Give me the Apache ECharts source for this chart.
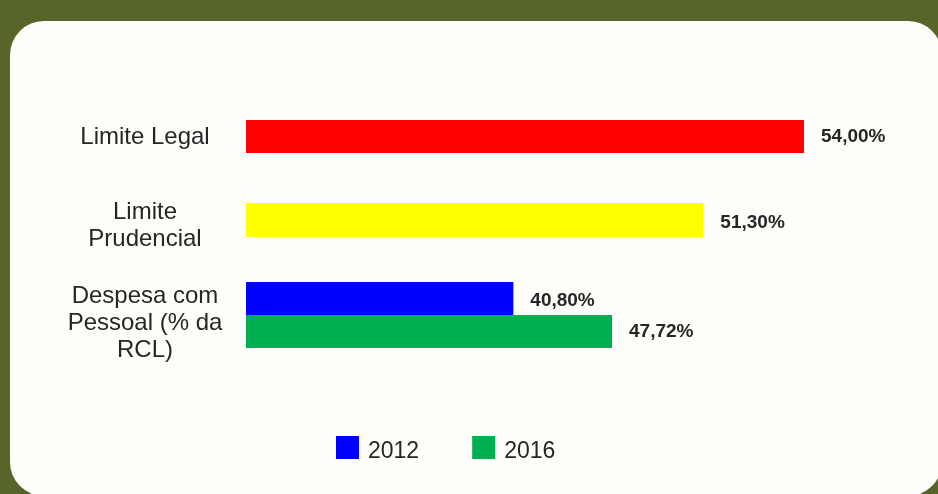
<!DOCTYPE html>
<html>
<head>
<meta charset="utf-8">
<script src="https://cdn.jsdelivr.net/npm/echarts@6/dist/echarts.min.js"></script>
<style>
html,body{margin:0;padding:0;background:#57652b;}
#chart{width:938px;height:494px;}
</style>
</head>
<body>
<div id="chart"></div>
<script>
// Categories (y-axis labels)
var categories = ['Limite Legal', 'Limite\nPrudencial', 'Despesa com\nPessoal (% da\nRCL)'];
// Bar lengths as drawn in the picture (value-axis units)
var limiteLegal = [54.0];
var limitePrudencial = [44.26];
var despesa2012 = [25.87];
var despesa2016 = [35.42];
// Printed value labels
var labelLegal = ['54,00%'];
var labelPrudencial = ['51,30%'];
var label2012 = ['40,80%'];
var label2016 = ['47,72%'];
var legendNames = ['2012', '2016'];

var textColor = '#262626';
var font = 'Liberation Sans';
// spacer line pushes text block down by half its height
var spacerRich = function (h) {
  var r = {};
  r.sp = {lineHeight: h, fontSize: 1, height: h};
  return r;
};
var valueLabel = function (arr, shift) {
  return {
    show: true, position: 'right', distance: 17,
    fontFamily: font, fontWeight: 'bold', fontSize: 19, color: textColor, lineHeight: 22,
    rich: spacerRich(shift * 2 || 1),
    formatter: function (p) { return shift ? '{sp|}\n' + arr[p.dataIndex] : arr[p.dataIndex]; }
  };
};
var yAx = function (idx, cat, shift) {
  return {
    type: 'category', gridIndex: idx, data: [cat], inverse: true,
    axisLine: {show: false}, axisTick: {show: false}, splitLine: {show: false},
    axisLabel: {
      margin: 101, align: 'center', fontFamily: font, fontSize: 24,
      lineHeight: 27, color: textColor,
      rich: spacerRich(shift * 2 || 1),
      formatter: function (v) { return shift ? '{sp|}\n' + v : v; }
    }
  };
};
var xAx = function (idx) {
  return {
    type: 'value', gridIndex: idx, min: 0, max: 60,
    axisLine: {show: false}, axisTick: {show: false}, splitLine: {show: false}, axisLabel: {show: false}
  };
};

var chart = echarts.init(document.getElementById('chart'), null, {renderer: 'canvas'});
chart.setOption({
  backgroundColor: '#57652b',
  animation: false,
  graphic: [{
    type: 'rect', z: -10, silent: true,
    shape: {x: 10, y: 21, width: 932, height: 475, r: 34},
    style: {fill: '#fdfef9'}
  }],
  grid: [
    {left: 246, width: 620, top: 120, height: 33},
    {left: 246, width: 620, top: 203, height: 34},
    {left: 246, width: 620, top: 282, height: 66}
  ],
  xAxis: [xAx(0), xAx(1), xAx(2)],
  yAxis: [yAx(0, categories[0], 1), yAx(1, categories[1], 6), yAx(2, categories[2], 8)],
  legend: {
    data: legendNames, left: 336, top: 430.5, padding: 0, itemWidth: 23, itemHeight: 23, itemGap: 53,
    icon: 'rect',
    formatter: function (n) { return '{sp|}\n' + n; },
    textStyle: {fontFamily: font, fontSize: 23, lineHeight: 26, color: textColor, padding: [0, 0, 0, 4],
      rich: spacerRich(8)}
  },
  series: [
    {name: 'Limite Legal', type: 'bar', xAxisIndex: 0, yAxisIndex: 0, data: limiteLegal,
     barCategoryGap: 0, itemStyle: {color: '#ff0000'}, label: valueLabel(labelLegal, 0)},
    {name: 'Limite Prudencial', type: 'bar', xAxisIndex: 1, yAxisIndex: 1, data: limitePrudencial,
     barCategoryGap: 0, itemStyle: {color: '#ffff00'}, label: valueLabel(labelPrudencial, 3)},
    {name: legendNames[0], type: 'bar', xAxisIndex: 2, yAxisIndex: 2, data: despesa2012,
     barCategoryGap: 0, barGap: 0, itemStyle: {color: '#0000ff'}, label: valueLabel(label2012, 2)},
    {name: legendNames[1], type: 'bar', xAxisIndex: 2, yAxisIndex: 2, data: despesa2016,
     barCategoryGap: 0, barGap: 0, itemStyle: {color: '#00b050'}, label: valueLabel(label2016, 0)}
  ]
});
</script>
</body>
</html>
